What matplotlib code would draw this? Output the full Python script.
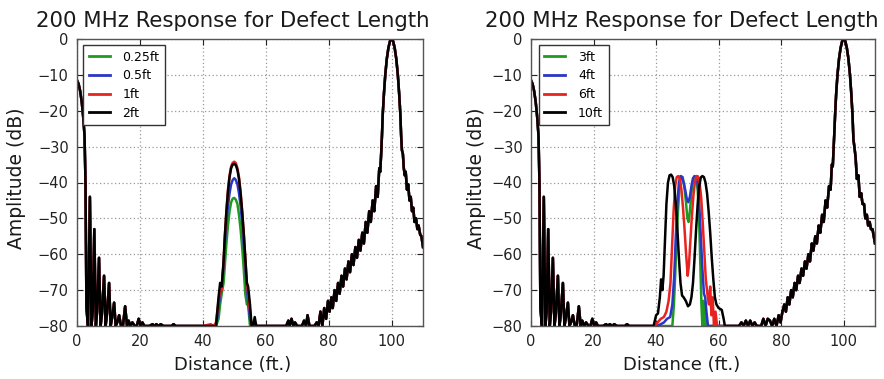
import numpy as np
import matplotlib
matplotlib.use("Agg")
import matplotlib.pyplot as plt

# ---------------- data ----------------
TITLE = "200 MHz Response for Defect Length"
XLABEL = "Distance (ft.)"
YLABEL = "Amplitude (dB)"
XTICKS = [0, 20, 40, 60, 80, 100]
YTICKS = [0, -10, -20, -30, -40, -50, -60, -70, -80]

LEFT_LABELS = ["0.25ft", "0.5ft", "1ft", "2ft"]
RIGHT_LABELS = ["3ft", "4ft", "6ft", "10ft"]
COLORS = ["#1f9a1f", "#2b35c8", "#e8231f", "#000000"]

# near-end reflection (shared by all traces)
near_x = [0, 0.5, 1.0, 1.5, 2.0, 2.4, 2.7, 3.0, 3.5, 4.1, 4.6, 5.0, 5.5, 6.0,
          6.4, 7.0, 7.5, 7.9, 8.6, 9.1, 9.5, 10.2, 10.7, 11.1, 11.8, 12.3,
          12.8, 13.4, 14.0, 14.6, 15.3, 15.9, 16.4, 17.0, 17.6, 18.4, 19.0,
          19.6, 20.2, 20.8, 21.4, 22.2, 23.0, 24.0, 24.6, 25.2, 26.0, 26.6,
          27.5, 30.0, 30.7, 31.4, 33.0]
near_y = [-11.5, -12.5, -14.5, -17.5, -22, -27, -40, -75, -80, -44, -80, -76,
          -53, -80, -76, -61, -80, -77, -66, -80, -77, -68, -80, -78, -73.5,
          -80, -79, -77, -80, -80, -74.5, -80, -78.5, -80, -79, -80, -80,
          -78, -80, -79, -80, -80, -80, -79.5, -80, -79.5, -80, -79.5,
          -80, -80, -79.5, -80, -80]

# left panel: defect region (one list per trace)
left_defect_x = [40, 42.5, 43.5, 44.2, 45.0, 45.5, 46.0, 46.6, 47.0, 47.5, 48.0,
                 48.5, 49.0, 49.5, 50.0, 50.5, 51.0, 51.5, 52.0, 52.5, 53.0,
                 53.5, 54.0, 54.4, 55.0, 55.5, 56.0, 56.5, 57.0, 57.4, 58, 60]
left_defect_y_025 = [-80, -80, -80, -80, -78, -74, -71, -68, -63, -57, -52,
                     -48, -45.5, -44.5, -44.3, -44.8, -46, -49, -53, -58, -64,
                     -71, -74, -74, -80, -80, -80, -80, -80, -80, -80, -80]
left_defect_y_05 = [-80, -80, -80, -80, -75, -71, -70, -63, -57, -51, -46.5,
                    -43, -40.5, -39.3, -38.8, -39.3, -40.5, -43, -46.5, -51,
                    -57, -63, -70, -73, -78, -80, -80, -80, -80, -80, -80, -80]
left_defect_y_1 = [-80, -79.5, -80, -79, -73, -70, -70, -62, -55, -48, -42,
                   -38, -35.5, -34.5, -34.2, -34.6, -36, -38.5, -42.5, -48,
                   -54, -61, -68, -71, -76, -80, -80, -79, -80, -80, -80, -80]
left_defect_y_2 = [-80, -80, -80, -80, -72, -68, -69, -62, -55, -48, -42.5,
                   -38.5, -36, -35, -34.8, -35.2, -36.5, -39, -43, -48, -54,
                   -61, -68, -69, -74, -80, -80, -77.5, -80, -80, -80, -80]

# left panel: quiet section and far-end reflection (shared)
left_far_x = [60, 66.5, 67.2, 67.6, 68.2, 68.8, 69.3, 70, 71.5, 72.2, 72.8,
              73.3, 73.9, 74.5, 75.5, 76.2, 76.8, 77.4, 78.0, 78.6, 79.2, 79.8,
              80.3, 80.9, 81.3, 81.9, 82.4, 83.0, 83.5, 84.1, 84.6, 85.2, 85.7,
              86.3, 86.8, 87.4, 87.9, 88.5, 89.0, 89.6, 90.1, 90.7, 91.2, 91.8,
              92.3, 92.9, 93.4, 94.0, 94.5, 95.1, 95.6, 96.1, 96.4, 96.7, 96.95,
              97.2, 97.6, 98.0, 98.5, 99.0, 99.5, 100.0, 100.5, 101.0, 101.5,
              102.0, 102.4, 102.8, 103.05, 103.3, 103.6, 103.9, 104.2, 104.5,
              104.9, 105.3, 105.7, 106.1, 106.5, 106.9, 107.3, 107.8, 108.2,
              108.6, 109.1, 109.5, 110.0]
left_far_y = [-80, -80, -78.5, -80, -78, -80, -79, -80, -80, -78.5, -80,
              -77, -80, -80, -80, -79, -80, -76, -80, -75, -78, -73,
              -76, -72, -75, -70, -73, -68, -71, -66, -69, -64, -67,
              -62, -65, -60, -63, -58, -61, -56, -59, -54, -57, -51,
              -54, -48, -51, -45, -48, -41, -44, -36, -37, -32, -27,
              -21, -15, -10, -5.5, -2.5, -0.6, 0, -0.6, -2.5, -5.5,
              -10, -15, -21, -27, -31, -32, -36, -38, -37,
              -42, -40.5, -45, -44, -48, -47, -51, -50, -53,
              -52, -54.5, -55, -58]

# right panel: defect region (one x/y pair per trace)
right_defect_x_3 = [44.5, 45.2, 45.7, 46.1, 46.5, 47.0, 47.5, 48.0, 48.5, 49.0,
                    49.5, 50.0, 50.4, 50.8, 51.3, 51.8, 52.3, 52.8, 53.3, 53.8,
                    54.2, 54.5, 54.8, 55.1, 55.4, 55.7, 56.0, 56.4]
right_defect_y_3 = [-80, -80, -74, -66, -57, -48, -41, -38.3, -38.5, -41,
                    -45, -50, -51, -48, -43, -39.5, -38.3, -38.5, -42, -52,
                    -64, -74, -80, -73, -80, -74, -80, -80]
right_defect_x_4 = [39.0, 40.0, 41.5, 42.5, 43.5, 44.5, 45.2, 45.8, 46.3, 46.8,
                    47.3, 47.8, 48.3, 48.8, 49.3, 49.8, 50.3, 50.8, 51.3, 51.8,
                    52.3, 52.8, 53.3, 53.8, 54.3, 54.8, 55.3, 55.7, 56.1, 56.6,
                    57.0]
right_defect_y_4 = [-80, -80, -79.5, -79, -78, -77.5, -74, -66, -55, -46,
                    -40, -38.2, -38.5, -40, -42, -44.5, -45.5, -44, -41, -38.8,
                    -38.2, -38.5, -40.5, -46, -55, -64, -71, -72, -76, -80,
                    -80]
right_defect_x_6 = [38.5, 39.5, 40.5, 41.5, 42.5, 43.3, 44.0, 44.6, 45.1, 45.6,
                    46.1, 46.6, 47.1, 47.6, 48.1, 48.6, 49.1, 49.6, 50.1, 50.5,
                    50.9, 51.4, 51.9, 52.4, 52.9, 53.4, 53.9, 54.4, 54.9, 55.4,
                    55.9, 56.4, 56.9, 57.3, 57.7, 58.1, 58.5, 59.0, 59.5]
right_defect_y_6 = [-80, -80, -79, -78, -77.5, -76, -73, -68, -58, -48,
                    -41, -38.5, -38.2, -39, -42, -47, -53, -60, -66, -63,
                    -57, -50, -44, -40, -38.2, -38.3, -40, -44, -51, -59,
                    -67, -71, -74, -69, -77, -72, -80, -76, -80]
right_defect_x_10 = [37.5, 38.5, 39.2, 40.0, 40.6, 41.2, 41.6, 42.0, 42.4, 42.8,
                     43.3, 43.8, 44.3, 44.8, 45.3, 45.8, 46.3, 46.8, 47.3, 47.8,
                     48.3, 48.8, 49.5, 50.2, 50.8, 51.3, 51.8, 52.3, 52.8, 53.3,
                     53.8, 54.3, 54.8, 55.3, 55.8, 56.3, 56.8, 57.3, 57.8, 58.3,
                     58.8, 59.3, 60.0, 61.0, 61.6, 62.0, 62.5]
right_defect_y_10 = [-80, -80, -80, -77, -76.5, -72, -67, -70, -66, -57,
                     -46, -40, -38, -37.8, -38.5, -41, -46, -53, -61, -68,
                     -71.5, -72, -73, -74.5, -74, -72, -68, -61, -53, -46,
                     -41, -38.6, -38.2, -38.5, -40, -43, -48, -54, -61, -67,
                     -72, -74, -75, -75.5, -78, -80, -80]

# right panel: quiet section and far-end reflection (shared)
right_far_x = [62.5, 64.5, 65.5, 66.5, 67.3, 68.0, 68.7, 69.4, 70.1, 70.8,
               71.5, 72.2, 72.9, 73.6, 74.3, 75.0, 75.7, 76.4, 77.1, 77.8,
               78.5, 79.2, 79.8, 80.4, 81.0, 81.5, 82.1, 82.6, 83.2, 83.7,
               84.3, 84.8, 85.4, 85.9, 86.5, 87.0, 87.6, 88.1, 88.7, 89.2,
               89.8, 90.3, 90.9, 91.4, 92.0, 92.5, 93.1, 93.6, 94.2, 94.7,
               95.3, 95.8, 96.2, 96.5, 96.8, 97.0, 97.3, 97.6, 98.0, 98.5,
               99.0, 99.5, 100.0, 100.5, 101.0, 101.5, 102.0, 102.4, 102.8,
               103.1, 103.4, 103.8, 104.2, 104.7, 105.1, 105.6, 106.0, 106.5,
               106.9, 107.4, 107.8, 108.3, 108.7, 109.2, 109.6, 110.0]
right_far_y = [-80, -80, -80, -80, -79, -80, -78.5, -80, -78.5, -80,
               -79, -80, -80, -80, -78, -80, -78, -78.5, -80, -78,
               -80, -77, -79, -76, -74, -76, -72, -74, -70, -72,
               -68, -70, -66, -68, -64, -66, -62, -64, -60, -62,
               -57, -59, -55, -57, -52, -54, -49, -51, -45, -47,
               -41, -42, -35, -35.5, -30, -26, -20, -15, -10, -5.5,
               -2.5, -0.6, 0, -0.6, -2.5, -5.5, -10, -15, -21,
               -28, -30, -33, -39, -38, -44, -43, -46, -46,
               -50, -49, -52, -51, -53, -53, -55, -57]

left_series = [
    (left_defect_x, left_defect_y_025),
    (left_defect_x, left_defect_y_05),
    (left_defect_x, left_defect_y_1),
    (left_defect_x, left_defect_y_2),
]
right_series = [
    (right_defect_x_3, right_defect_y_3),
    (right_defect_x_4, right_defect_y_4),
    (right_defect_x_6, right_defect_y_6),
    (right_defect_x_10, right_defect_y_10),
]

# ---------------- figure ----------------
W, H = 884, 379
fig = plt.figure(figsize=(W / 100, H / 100), dpi=100)
fig.patch.set_facecolor("white")


def make_panel(ax_rect, series, labels, far_x, far_y, title_cx, ylab_cx, leg_anchor):
    ax = fig.add_axes(ax_rect)
    for (dx, dy), lab, col in zip(series, labels, COLORS):
        xs = np.concatenate([near_x, dx, far_x])
        ys = np.concatenate([near_y, dy, far_y])
        ax.plot(xs, ys, color=col, lw=1.8, label=lab, solid_joinstyle="round")
    ax.set_xlim(0, 110)
    ax.set_ylim(-80, 0)
    ax.set_xticks(XTICKS)
    ax.set_yticks(YTICKS)
    ax.set_yticklabels([("\u2212%d" % -v) if v < 0 else "%d" % v for v in YTICKS])
    ax.tick_params(direction="in", length=4, width=0.8, top=True, right=True,
                   labelsize=10.5, colors="#222222", pad=6)
    ax.grid(True, linestyle=(0, (1, 2)), color="#9a9a9a", lw=0.9)
    for sp in ax.spines.values():
        sp.set_color("#555555")
        sp.set_linewidth(1.0)
    leg = ax.legend(loc="upper left", bbox_to_anchor=leg_anchor, fontsize=9,
                    frameon=True, fancybox=False, framealpha=1,
                    edgecolor="#333333", handlelength=1.7, handletextpad=1.0,
                    labelspacing=0.45, borderpad=0.45, borderaxespad=0.0)
    leg.get_frame().set_linewidth(1.0)
    for lh in leg.get_lines():
        lh.set_linewidth(2.0)
    fig.text(title_cx / W, 1 - 27 / H, TITLE, ha="center", va="baseline",
             fontsize=15.3, color="#1a1a1a")
    fig.text(title_cx / W, 1 - 365 / H, XLABEL, ha="center", va="center",
             fontsize=13, color="#1a1a1a")
    fig.text(ylab_cx / W, 1 - 178 / H, YLABEL, ha="center", va="center",
             rotation=90, fontsize=13.5, color="#1a1a1a")
    return ax


make_panel([77 / W, 1 - 326 / H, 346 / W, 287 / H], left_series, LEFT_LABELS,
           left_far_x, left_far_y, 233, 17, (0.018, 0.979))
make_panel([531 / W, 1 - 326 / H, 344 / W, 287 / H], right_series, RIGHT_LABELS,
           right_far_x, right_far_y, 682, 476, (0.022, 0.979))

fig.savefig("out.png", dpi=100, facecolor="white")
